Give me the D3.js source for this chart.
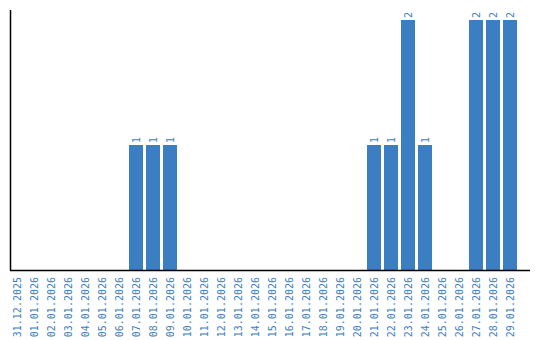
<!DOCTYPE html>
<html>
<head>
<meta charset="utf-8">
<script src="https://cdn.jsdelivr.net/npm/d3@7"></script>
<style>
body { margin: 0; background: #fff; }
</style>
</head>
<body>
<div class="chart"></div>
<script>
const dates = ['31.12.2025','01.01.2026','02.01.2026','03.01.2026','04.01.2026','05.01.2026','06.01.2026',
	'07.01.2026','08.01.2026','09.01.2026','10.01.2026','11.01.2026','12.01.2026','13.01.2026','14.01.2026',
	'15.01.2026','16.01.2026','17.01.2026','18.01.2026','19.01.2026','20.01.2026','21.01.2026','22.01.2026',
	'23.01.2026','24.01.2026','25.01.2026','26.01.2026','27.01.2026','28.01.2026','29.01.2026'];
const counts = [0,0,0,0,0,0,0, 1,1,1, 0,0,0,0,0,0,0,0,0,0,0, 1,1,2,1, 0,0, 2,2,2];

const data = dates.map((d,i) => ({date: d, value: counts[i]}));
const width = 540;
const height = 340;
const color = '#3b7ec2';
const font = '"DejaVu Sans Mono", "Liberation Mono", monospace';

const svg = d3.select('.chart')
	.append('svg')
	.attr('width', width)
	.attr('height', height);

const x = d3.scaleBand()
	.domain(dates)
	.range([10, 517])
	.paddingInner(3/17)
	.paddingOuter(0);

const y = d3.scaleLinear()
	.domain([0, 2])
	.range([270, 20]);

svg.selectAll('rect')
	.data(data)
	.enter()
	.append('rect')
	.attr('x', d => Math.round(x(d.date)))
	.attr('y', d => y(d.value))
	.attr('width', 14)
	.attr('height', d => y(0) - y(d.value))
	.attr('fill', color);

// axis lines
svg.append('line')
	.attr('x1', 10.5).attr('x2', 10.5)
	.attr('y1', 10).attr('y2', 270.5)
	.attr('stroke', '#000').attr('stroke-width', 1.5);
svg.append('line')
	.attr('x1', 10).attr('x2', 530)
	.attr('y1', 270.5).attr('y2', 270.5)
	.attr('stroke', '#000').attr('stroke-width', 1.5);

// value labels
svg.selectAll('text.values')
	.data(data.filter(d => d.value > 0))
	.enter()
	.append('text')
	.attr('class', 'values')
	.attr('transform', d => `translate(${Math.round(x(d.date)) + 7},${y(d.value) - 2}) rotate(-90)`)
	.attr('dy', '0.35em')
	.attr('text-anchor', 'start')
	.attr('font-size', '10px')
	.attr('font-family', font)
	.attr('fill', color)
	.text(d => d.value);

// date labels
svg.selectAll('text.labels')
	.data(data)
	.enter()
	.append('text')
	.attr('class', 'labels')
	.attr('transform', d => `translate(${Math.round(x(d.date)) + 7},277) rotate(-90)`)
	.attr('dy', '0.35em')
	.attr('text-anchor', 'end')
	.attr('font-size', '10px')
	.attr('font-family', font)
	.attr('fill', color)
	.text(d => d.date);
</script>
</body>
</html>
